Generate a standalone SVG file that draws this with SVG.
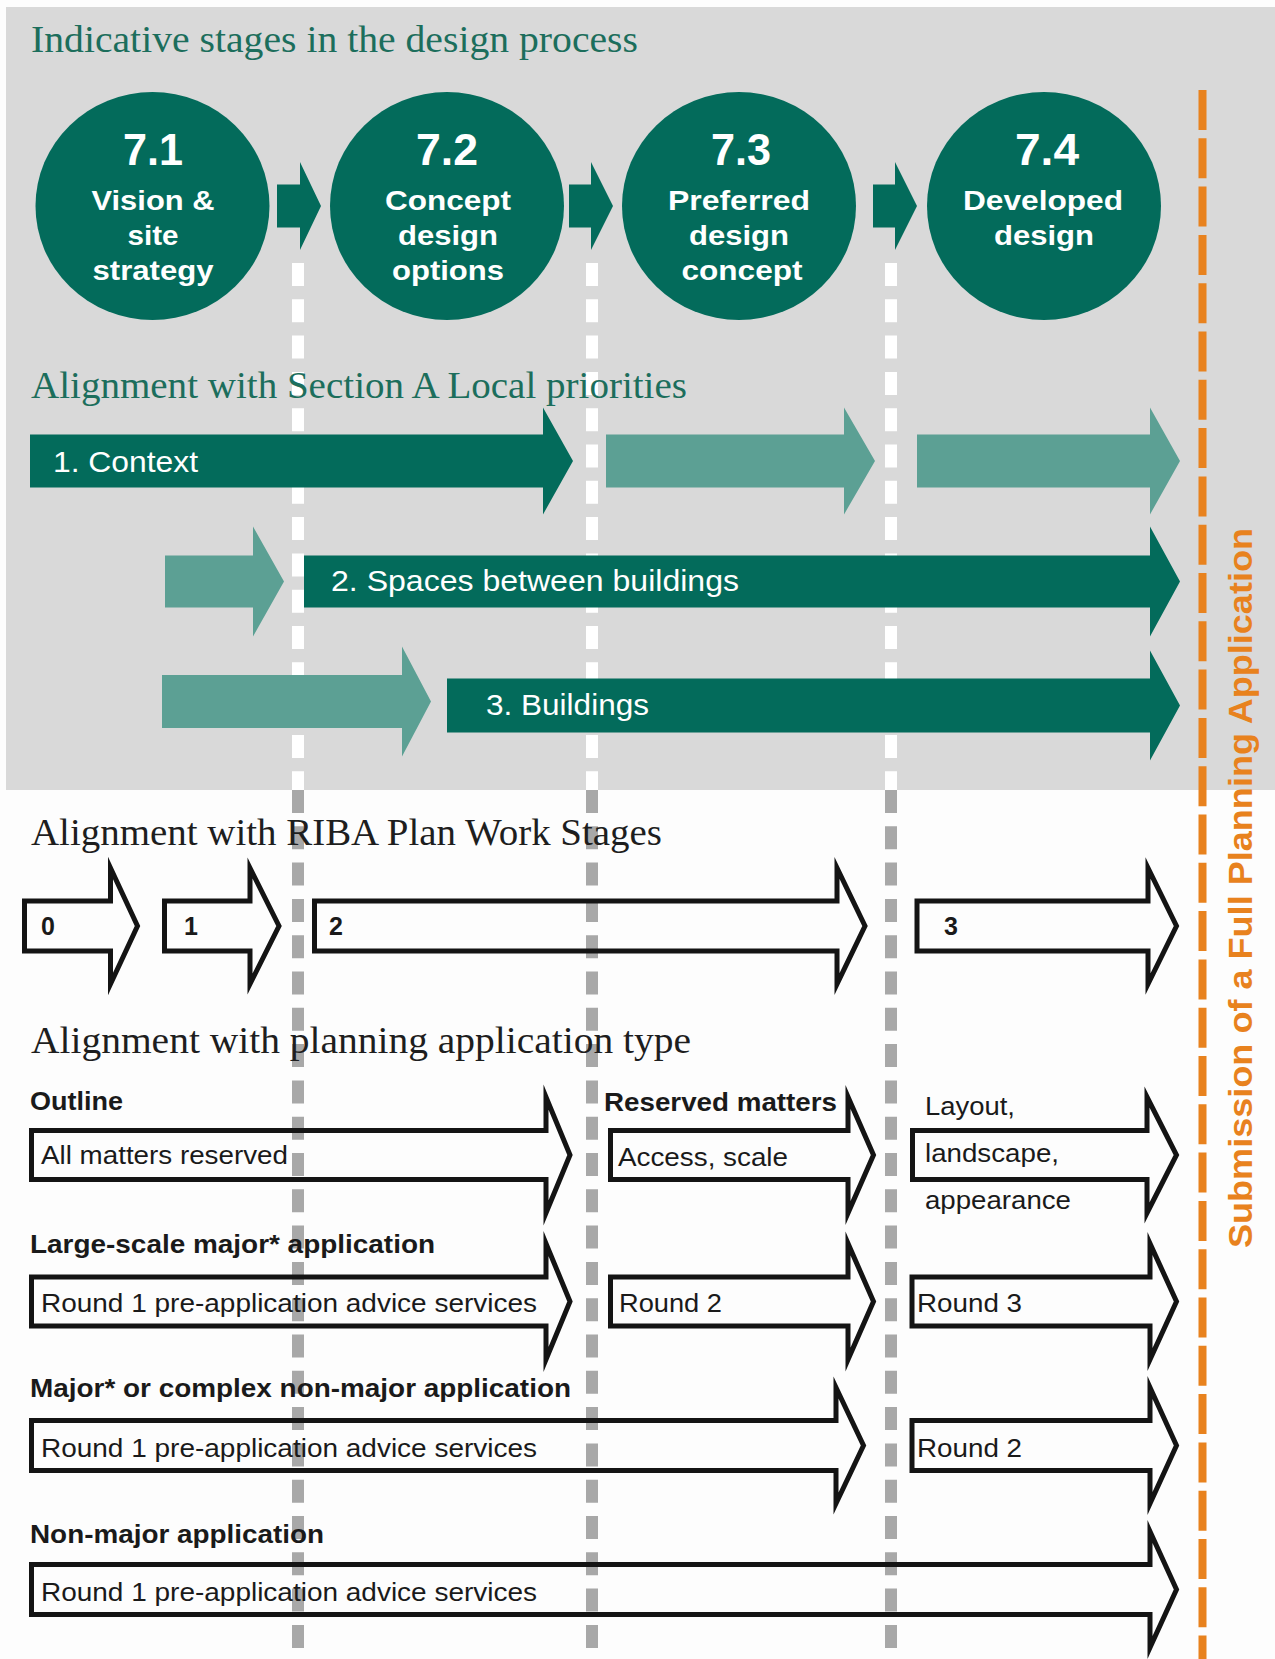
<svg xmlns="http://www.w3.org/2000/svg" width="1275" height="1659" viewBox="0 0 1275 1659">
<style>
.hdr{font-family:"Liberation Serif","Times New Roman",serif;font-size:38px}
.hg{fill:#1c6e5c}
.hk{fill:#1e1e1e}
.ct{font-family:"Liberation Sans",Arial,sans-serif;font-weight:bold;fill:#ffffff;text-anchor:middle}
.num{font-size:45px}
.cl{font-size:28px}
.wt{font-family:"Liberation Sans",Arial,sans-serif;font-size:30px;fill:#ffffff}
.lbl{font-family:"Liberation Sans",Arial,sans-serif;font-weight:bold;font-size:25px;fill:#1a1a1a}
.txt{font-family:"Liberation Sans",Arial,sans-serif;font-size:26px;fill:#1a1a1a}
.dig{font-family:"Liberation Sans",Arial,sans-serif;font-weight:bold;font-size:25px;fill:#1a1a1a}
.ol{fill:none;stroke:#141414;stroke-width:5;stroke-linejoin:miter;stroke-miterlimit:6}
.dk{fill:#036b5b}
.lt{fill:#5ca094}
.wd{stroke:#ffffff;stroke-width:12;stroke-dasharray:23 13.3}
.gd{stroke:#a8a8a8;stroke-width:12;stroke-dasharray:23 13.3}
.od{stroke:#e8821e;stroke-width:8;stroke-dasharray:40 8.3}
</style>
<rect x="0" y="0" width="1275" height="1659" fill="#fdfdfd"/>
<rect x="6" y="7" width="1269" height="783" fill="#d9d9d9"/>

<g id="guides-upper">
<line class="wd" x1="298" y1="263" x2="298" y2="790"/>
<line class="wd" x1="592" y1="263" x2="592" y2="790"/>
<line class="wd" x1="891" y1="263" x2="891" y2="790"/>
</g>
<g id="guides-lower">
<line class="gd" x1="298" y1="790" x2="298" y2="1659"/>
<line class="gd" x1="592" y1="790" x2="592" y2="1659"/>
<line class="gd" x1="891" y1="790" x2="891" y2="1659"/>
</g>

<text class="hdr hg" x="31" y="52" textLength="607" lengthAdjust="spacingAndGlyphs">Indicative stages in the design process</text>

<g id="stage-7-1">
<ellipse cx="152.5" cy="206" rx="117" ry="114" class="dk"/>
<text class="ct num" x="153" y="165" textLength="60" lengthAdjust="spacingAndGlyphs">7.1</text>
<text class="ct cl" x="153" y="210" textLength="123" lengthAdjust="spacingAndGlyphs">Vision &amp;</text>
<text class="ct cl" x="153" y="245" textLength="51" lengthAdjust="spacingAndGlyphs">site</text>
<text class="ct cl" x="153" y="280" textLength="121" lengthAdjust="spacingAndGlyphs">strategy</text>
</g>
<g id="stage-7-2">
<ellipse cx="447" cy="206" rx="117" ry="114" class="dk"/>
<text class="ct num" x="447" y="165" textLength="62" lengthAdjust="spacingAndGlyphs">7.2</text>
<text class="ct cl" x="448" y="210" textLength="126" lengthAdjust="spacingAndGlyphs">Concept</text>
<text class="ct cl" x="448" y="245" textLength="100" lengthAdjust="spacingAndGlyphs">design</text>
<text class="ct cl" x="448" y="280" textLength="112" lengthAdjust="spacingAndGlyphs">options</text>
</g>
<g id="stage-7-3">
<ellipse cx="739" cy="206" rx="117" ry="114" class="dk"/>
<text class="ct num" x="741" y="165" textLength="60" lengthAdjust="spacingAndGlyphs">7.3</text>
<text class="ct cl" x="739" y="210" textLength="142" lengthAdjust="spacingAndGlyphs">Preferred</text>
<text class="ct cl" x="739" y="245" textLength="100" lengthAdjust="spacingAndGlyphs">design</text>
<text class="ct cl" x="742" y="280" textLength="121" lengthAdjust="spacingAndGlyphs">concept</text>
</g>
<g id="stage-7-4">
<ellipse cx="1044" cy="206" rx="117" ry="114" class="dk"/>
<text class="ct num" x="1047" y="165" textLength="64" lengthAdjust="spacingAndGlyphs">7.4</text>
<text class="ct cl" x="1043" y="210" textLength="160" lengthAdjust="spacingAndGlyphs">Developed</text>
<text class="ct cl" x="1044" y="245" textLength="100" lengthAdjust="spacingAndGlyphs">design</text>
</g>

<g id="connectors">
<path class="dk" d="M277 184.5 L300 184.5 L300 162 L321 206 L300 250 L300 227.5 L277 227.5 Z"/>
<path class="dk" d="M569 184.5 L591 184.5 L591 162 L613 206 L591 250 L591 227.5 L569 227.5 Z"/>
<path class="dk" d="M873 184.5 L895 184.5 L895 162 L917 206 L895 250 L895 227.5 L873 227.5 Z"/>
</g>

<text class="hdr hg" x="31" y="398" textLength="656" lengthAdjust="spacingAndGlyphs">Alignment with Section A Local priorities</text>

<g id="priority-1-context">
<path class="dk" d="M30 434.5 L543 434.5 L543 407.5 L573 461 L543 514.5 L543 487.5 L30 487.5 Z"/>
<path class="lt" d="M606 434.5 L844 434.5 L844 407.5 L875 461 L844 514.5 L844 487.5 L606 487.5 Z"/>
<path class="lt" d="M917 434.5 L1150 434.5 L1150 407.5 L1180 461 L1150 514.5 L1150 487.5 L917 487.5 Z"/>
<text class="wt" x="53" y="472" textLength="145" lengthAdjust="spacingAndGlyphs">1. Context</text>
</g>
<g id="priority-2-spaces">
<path class="lt" d="M165 555.5 L253 555.5 L253 526.5 L284 581.5 L253 636.5 L253 607.5 L165 607.5 Z"/>
<path class="dk" d="M304 555.5 L1150 555.5 L1150 526.5 L1180 581.5 L1150 636.5 L1150 607.5 L304 607.5 Z"/>
<text class="wt" x="331" y="591" textLength="408" lengthAdjust="spacingAndGlyphs">2. Spaces between buildings</text>
</g>
<g id="priority-3-buildings">
<path class="lt" d="M162 675 L402 675 L402 646.5 L431 701.5 L402 756.5 L402 728 L162 728 Z"/>
<path class="dk" d="M447 678.5 L1150 678.5 L1150 650.5 L1180 705.5 L1150 760.5 L1150 732.5 L447 732.5 Z"/>
<text class="wt" x="486" y="715" textLength="163" lengthAdjust="spacingAndGlyphs">3. Buildings</text>
</g>

<text class="hdr hk" x="31" y="845" textLength="631" lengthAdjust="spacingAndGlyphs">Alignment with RIBA Plan Work Stages</text>
<text class="hdr hk" x="31" y="1053" textLength="660" lengthAdjust="spacingAndGlyphs">Alignment with planning application type</text>

<g id="riba-stages">
<path class="ol" d="M24.5 901 L110.5 901 L110.5 868 L137.5 926 L110.5 984 L110.5 951 L24.5 951 Z"/>
<path class="ol" d="M164.5 901 L250 901 L250 868 L279 926 L250 984 L250 951 L164.5 951 Z"/>
<path class="ol" d="M314.5 901 L837 901 L837 868 L865 926 L837 984 L837 951 L314.5 951 Z"/>
<path class="ol" d="M917 901 L1148 901 L1148 868 L1176.5 926 L1148 984 L1148 951 L917 951 Z"/>
<text class="dig" x="41" y="935">0</text>
<text class="dig" x="184" y="935">1</text>
<text class="dig" x="329" y="935">2</text>
<text class="dig" x="944" y="935">3</text>
</g>

<g id="outline-row">
<path class="ol" d="M31.5 1130.5 L546 1130.5 L546 1097 L570 1155 L546 1213 L546 1179.5 L31.5 1179.5 Z"/>
<path class="ol" d="M610.5 1130.5 L848 1130.5 L848 1097 L873.5 1155 L848 1213 L848 1179.5 L610.5 1179.5 Z"/>
<path class="ol" d="M912.5 1130.5 L1147 1130.5 L1147 1097 L1176.5 1155 L1147 1213 L1147 1179.5 L912.5 1179.5 Z"/>
<text class="lbl" x="30" y="1110" textLength="93" lengthAdjust="spacingAndGlyphs">Outline</text>
<text class="lbl" x="604" y="1111" textLength="233" lengthAdjust="spacingAndGlyphs">Reserved matters</text>
<text class="txt" x="41" y="1164" textLength="247" lengthAdjust="spacingAndGlyphs">All matters reserved</text>
<text class="txt" x="618" y="1166" textLength="170" lengthAdjust="spacingAndGlyphs">Access, scale</text>
<text class="txt" x="925" y="1115" textLength="90" lengthAdjust="spacingAndGlyphs">Layout,</text>
<text class="txt" x="925" y="1162" textLength="134" lengthAdjust="spacingAndGlyphs">landscape,</text>
<text class="txt" x="925" y="1209" textLength="146" lengthAdjust="spacingAndGlyphs">appearance</text>
</g>
<g id="large-scale-row">
<path class="ol" d="M31.5 1277 L546 1277 L546 1243.5 L570 1301.5 L546 1359.5 L546 1326 L31.5 1326 Z"/>
<path class="ol" d="M610.5 1277 L848 1277 L848 1243.5 L873.5 1301.5 L848 1359.5 L848 1326 L610.5 1326 Z"/>
<path class="ol" d="M912 1277 L1150 1277 L1150 1243.5 L1176.5 1301.5 L1150 1359.5 L1150 1326 L912 1326 Z"/>
<text class="lbl" x="30" y="1253" textLength="405" lengthAdjust="spacingAndGlyphs">Large-scale major* application</text>
<text class="txt" x="41" y="1312" textLength="496" lengthAdjust="spacingAndGlyphs">Round 1 pre-application advice services</text>
<text class="txt" x="619" y="1312" textLength="103" lengthAdjust="spacingAndGlyphs">Round 2</text>
<text class="txt" x="917" y="1312" textLength="105" lengthAdjust="spacingAndGlyphs">Round 3</text>
</g>
<g id="major-row">
<path class="ol" d="M31.5 1420.5 L836 1420.5 L836 1387.5 L863.5 1445.5 L836 1503.5 L836 1470.5 L31.5 1470.5 Z"/>
<path class="ol" d="M912 1420.5 L1150 1420.5 L1150 1387.5 L1176.5 1445.5 L1150 1503.5 L1150 1470.5 L912 1470.5 Z"/>
<text class="lbl" x="30" y="1397" textLength="541" lengthAdjust="spacingAndGlyphs">Major* or complex non-major application</text>
<text class="txt" x="41" y="1457" textLength="496" lengthAdjust="spacingAndGlyphs">Round 1 pre-application advice services</text>
<text class="txt" x="917" y="1457" textLength="105" lengthAdjust="spacingAndGlyphs">Round 2</text>
</g>
<g id="non-major-row">
<path class="ol" d="M31.5 1564.5 L1150 1564.5 L1150 1531.5 L1176.5 1589.5 L1150 1647.5 L1150 1614.5 L31.5 1614.5 Z"/>
<text class="lbl" x="30" y="1543" textLength="294" lengthAdjust="spacingAndGlyphs">Non-major application</text>
<text class="txt" x="41" y="1601" textLength="496" lengthAdjust="spacingAndGlyphs">Round 1 pre-application advice services</text>
</g>

<g id="submission">
<line class="od" x1="1202.5" y1="90" x2="1202.5" y2="1659"/>
<text transform="translate(1252,888) rotate(-90)" x="0" y="0" text-anchor="middle" font-family="Liberation Sans, Arial, sans-serif" font-weight="bold" font-size="33" fill="#e8821e" textLength="720" lengthAdjust="spacingAndGlyphs">Submission of a Full Planning Application</text>
</g>
</svg>
